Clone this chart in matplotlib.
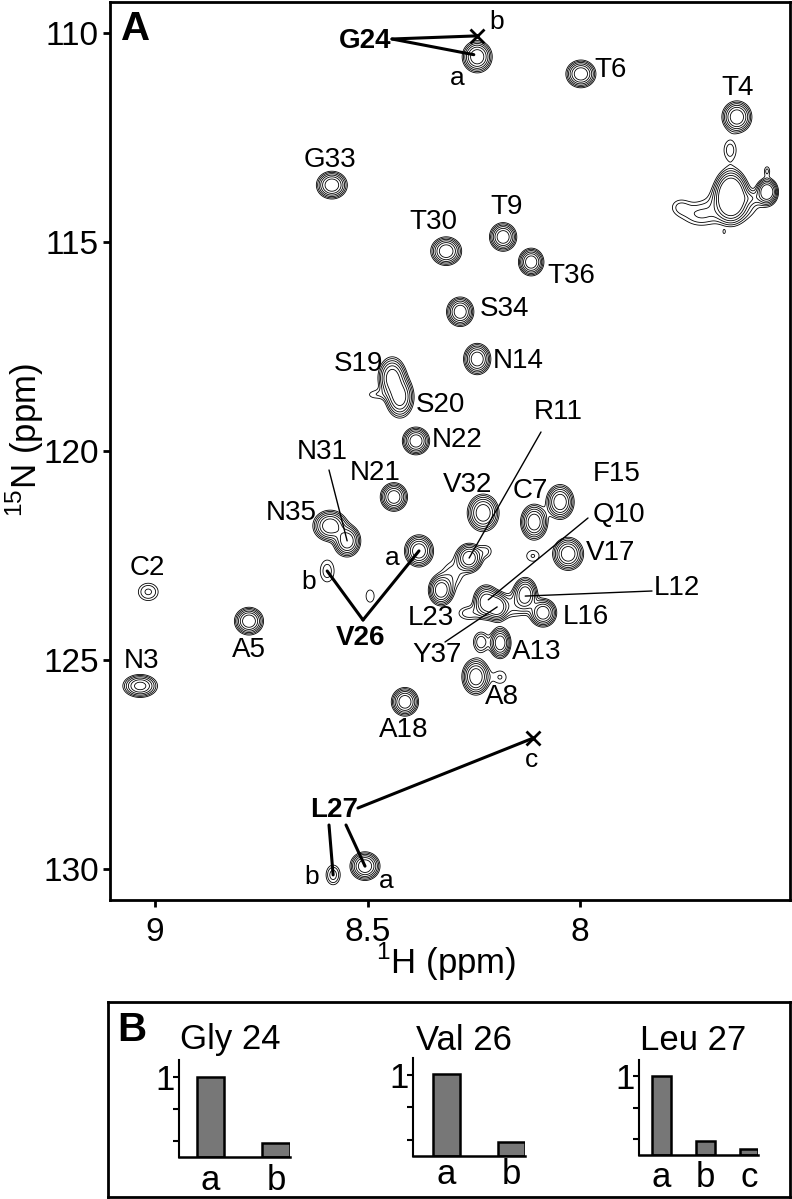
import numpy as np
import matplotlib
matplotlib.use("Agg")
import matplotlib.pyplot as plt

plt.rcParams['font.family'] = ['Liberation Sans', 'DejaVu Sans']
plt.rcParams['mathtext.fontset'] = 'custom'
plt.rcParams['mathtext.rm'] = 'Liberation Sans'

W, H = 792, 1199

# peak table: 1H ppm, 15N ppm, height, width in 1H, width in 15N
peak_h = [8.242, 7.998, 7.631, 8.584, 8.315, 8.181, 8.115, 8.282, 8.242, 8.442, 8.424,
          8.386, 8.438, 8.228, 8.108, 8.047, 8.588, 8.548, 8.379, 8.595, 8.261, 8.327,
          8.221, 8.195, 8.129, 8.087, 8.028, 9.016, 9.035, 8.779, 8.188, 8.233, 8.245,
          8.188, 8.412, 8.506, 8.581, 8.494, 8.111, 7.645, 7.560, 7.647,
          8.300, 8.222, 8.262, 7.718, 7.765, 7.560, 7.661, 8.482, 7.600, 8.160, 7.640]
peak_n = [110.57, 110.98, 112.01, 113.64, 115.22, 114.88, 115.48, 116.67, 117.80, 118.25, 118.71,
          119.76, 121.10, 121.48, 121.70, 121.22, 121.79, 122.15, 122.39, 122.87, 122.56, 123.33,
          123.61, 123.73, 123.43, 123.87, 122.46, 123.37, 125.62, 124.07, 124.59, 124.57, 125.40,
          125.41, 126.00, 129.93, 130.14, 123.47, 122.51, 113.90, 113.80, 112.80,
          122.95, 122.40, 123.88, 114.35, 114.16, 113.30, 114.76, 118.65, 113.95, 123.70, 114.10]
peak_amp = [10, 10, 10, 10, 10, 10, 10, 10, 10, 9, 9,
            10, 10, 10, 10, 10, 10, 10, 10, 1.8, 10, 10,
            10, 10, 10, 10, 10, 2.3, 8, 10, 10, 3, 10,
            1.5, 10, 10, 2.6, 1.3, 1.5, 20, 12, 1.8,
            1.8, 1.6, 1.9, 2.0, 1.4, 1.6, 1.1, 1.3, 1.6, 2.2, 2.4]
peak_wh = [.0165, .0165, .0165, .0170, .0170, .0150, .0140, .0150, .0150, .0160, .0160,
           .0150, .0150, .0175, .0150, .0155, .0190, .0150, .0160, .0150, .0150, .0140,
           .0145, .0125, .0135, .0150, .0170, .0180, .0200, .0160, .0120, .0120, .0155,
           .0155, .0150, .0165, .0120, .0130, .0160, .0175, .0120, .0130,
           .0200, .0130, .0200, .0300, .0180, .0060, .0030, .0180, .0200, .0250, .0420]
peak_wn = [.18, .155, .18, .155, .16, .16, .155, .165, .175, .24, .24,
           .155, .16, .21, .20, .195, .175, .18, .18, .24, .165, .175,
           .19, .16, .19, .16, .185, .16, .135, .155, .175, .16, .205,
           .16, .16, .16, .17, .20, .14, .28, .15, .21,
           .25, .13, .13, .20, .16, .10, .05, .10, .10, .20, .27]

labels_a = ["T6", "T4", "G33", "T30", "T9", "T36", "S34", "N14", "S19", "S20", "N22", "N21",
            "V32", "C7", "F15", "N35", "V17", "C2", "N3", "A5", "L23", "L16", "A13", "A8", "A18"]
labels_ax = [611, 738, 330, 433, 507, 571, 505, 518, 359, 440, 457, 375,
             468, 530, 617, 291, 611, 147, 141, 249, 431, 586, 537, 502, 404]
labels_ay = [70, 88, 160, 222, 207, 276, 309, 361, 364, 405, 440, 473,
             485, 491, 474, 513, 553, 568, 661, 650, 618, 617, 652, 697, 730]

lead_labels = ["R11", "Q10", "L12", "Y37", "N31"]
lead_lx = [558, 619, 677, 437, 322]
lead_ly = [412, 515, 588, 655, 452]
lead_peak = [(8.261, 122.56), (8.216, 123.56), (8.129, 123.47), (8.195, 123.73), (8.548, 122.15)]
lead_from = [(541, 432), (588, 518), (652, 591), (445, 642), (329, 470)]

x_ticks = [9, 8.5, 8]
y_ticks = [110, 115, 120, 125, 130]

bar_titles = ["Gly 24", "Val 26", "Leu 27"]
bar_cats = [["a", "b"], ["a", "b"], ["a", "b", "c"]]
bar_vals = [[1.0, 0.18], [1.01, 0.17], [1.0, 0.18, 0.08]]
bar_ticks = [0.2, 0.6, 1.0]


def rect(x0, y0, x1, y1):
    # pixel box (y down) to figure fractions
    return [x0 / W, 1 - y1 / H, (x1 - x0) / W, (y1 - y0) / H]


def fx(x, y):
    return (x / W, 1 - y / H)


fig = plt.figure(figsize=(W / 100, H / 100), dpi=100)

# panel A
ax = fig.add_axes(rect(110, 2, 790, 900))
xg = np.linspace(9.106, 7.506, 1360)
yg = np.linspace(109.26, 130.74, 1800)
XX, YY = np.meshgrid(xg, yg)
field = np.zeros_like(XX)
for h, n, a, wh, wn in zip(peak_h, peak_n, peak_amp, peak_wh, peak_wn):
    field += a * np.exp(-(XX - h) ** 2 / (2 * wh ** 2) - (YY - n) ** 2 / (2 * wn ** 2))
levels = [1.0 * 1.45 ** k for k in range(6)]
ax.contour(XX, YY, field, levels=levels, colors='k', linewidths=0.6)
ax.set_xlim(9.106, 7.506)
ax.set_ylim(130.74, 109.26)
ax.set_xticks(x_ticks)
ax.set_xticklabels(["9", "8.5", "8"])
ax.set_yticks(y_ticks)
ax.tick_params(length=5, width=2, labelsize=24)
ax.tick_params(axis='x', pad=7)
ax.tick_params(axis='y', pad=3)
for s in ax.spines.values():
    s.set_linewidth(2)
ax.set_xlabel(r"$^{1}$H (ppm)", fontsize=25, labelpad=-5, x=0.495)
ax.set_ylabel(r"$^{15}$N (ppm)", fontsize=25, labelpad=-2, y=0.512)

fig.text(*fx(121, 40), "A", fontsize=29, fontweight='bold', ha='left', va='baseline')

for name, lx, ly in zip(labels_a, labels_ax, labels_ay):
    fig.text(*fx(lx, ly), name, fontsize=20, ha='center', va='center')

for name, lx, ly, peak, start in zip(lead_labels, lead_lx, lead_ly, lead_peak, lead_from):
    fig.text(*fx(lx, ly), name, fontsize=20, ha='center', va='center')
    ax.annotate("", xy=peak, xycoords='data', xytext=fx(*start), textcoords='figure fraction',
                arrowprops=dict(arrowstyle='-', lw=1.0, color='k', shrinkA=0, shrinkB=0))

# crossed out missing peaks
ax.plot([8.242, 8.111], [110.07, 126.87], 'x', color='k', ms=10, mew=2)

# assignment of the doubled peaks, bold
bold_labels = [("G24", 365, 41), ("V26", 361, 638), ("L27", 334, 810)]
for name, lx, ly in bold_labels:
    fig.text(*fx(lx, ly), name, fontsize=20, fontweight='bold', ha='center', va='center')
bold_leads = [((392, 39), (8.242, 110.07)), ((392, 39), (8.250, 110.52)),
              ((363, 620), (8.595, 122.87)), ((363, 620), (8.379, 122.39)),
              ((358, 808), (8.111, 126.87)), ((329, 825), (8.581, 130.14)),
              ((346, 825), (8.506, 129.93))]
for start, peak in bold_leads:
    ax.annotate("", xy=peak, xycoords='data', xytext=fx(*start), textcoords='figure fraction',
                arrowprops=dict(arrowstyle='-', lw=2.2, color='k', shrinkA=0, shrinkB=0))
small_labels = [("b", 497, 22), ("a", 457, 78), ("a", 392, 558), ("b", 309, 582),
                ("c", 532, 760), ("b", 312, 877), ("a", 386, 881)]
for name, lx, ly in small_labels:
    fig.text(*fx(lx, ly), name, fontsize=19, ha='center', va='center')

# panel B
box = fig.add_axes(rect(108, 1002, 790, 1197))
box.set_xticks([])
box.set_yticks([])
for s in box.spines.values():
    s.set_linewidth(2)
fig.text(*fx(117, 1041), "B", fontsize=29, fontweight='bold', ha='left', va='baseline')

bar_boxes = [(178.5, 1060, 290, 1157), (413, 1058, 525, 1155.7), (639, 1060, 758, 1155)]
bar_xlims = [(-0.49, 1.21), (-0.51, 1.21), (-0.51, 2.2)]
title_x = [230, 464, 693]
cat_pads = [5, 2, 4]
for i in range(3):
    b = fig.add_axes(rect(*bar_boxes[i]))
    b.patch.set_alpha(0)
    cats = np.arange(len(bar_cats[i]))
    b.bar(cats, bar_vals[i], width=0.42, color='#777777', edgecolor='k', linewidth=1.8)
    b.set_xlim(*bar_xlims[i])
    b.set_ylim(0, 1.21)
    b.set_xticks(cats)
    b.set_xticklabels(bar_cats[i])
    b.set_yticks(bar_ticks)
    b.set_yticklabels(["", "", "1"])
    b.tick_params(axis='x', length=0, labelsize=25, pad=cat_pads[i])
    b.tick_params(axis='y', length=4, width=1.5, labelsize=25, pad=-1)
    b.spines['top'].set_visible(False)
    b.spines['right'].set_visible(False)
    b.spines['left'].set_linewidth(1.5)
    b.spines['bottom'].set_linewidth(1.8)
    fig.text(*fx(title_x[i], 1040), bar_titles[i], fontsize=25, ha='center', va='center')

fig.savefig("out.png", dpi=100)
